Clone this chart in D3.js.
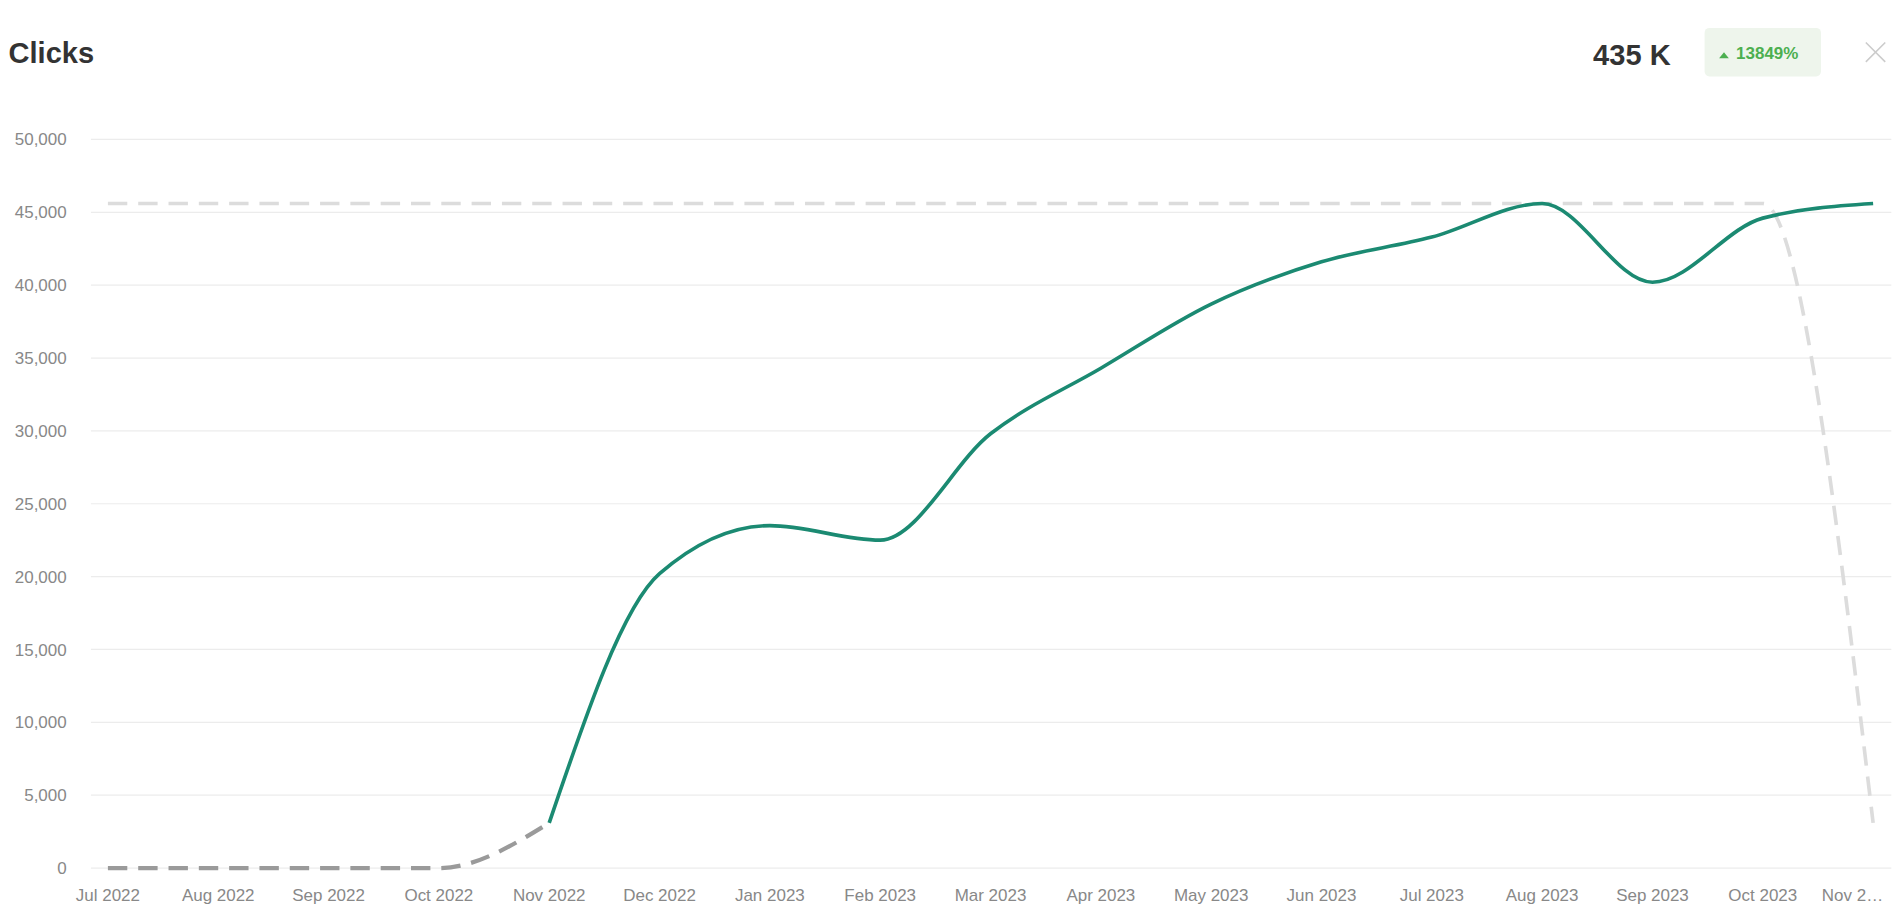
<!DOCTYPE html>
<html><head><meta charset="utf-8">
<script src="https://cdn.jsdelivr.net/npm/d3@7"></script>
<style>body{margin:0;background:#fff}svg{display:block;font-family:"Liberation Sans",Arial,sans-serif}</style>
</head><body><svg id="chart"></svg>
<script>
const months = ['Jul 2022','Aug 2022','Sep 2022','Oct 2022','Nov 2022','Dec 2022','Jan 2023','Feb 2023','Mar 2023','Apr 2023','May 2023','Jun 2023','Jul 2023','Aug 2023','Sep 2023','Oct 2023','Nov 2…'];
const clicks = [null,null,null,null,3100,20200,23500,22500,29800,34300,38700,41600,43300,45600,40200,44600,45600];
const partial = [0,0,0,0,3100,null,null,null,null,null,null,null,null,null,null,null,null];
const previous = [45600,45600,45600,45600,45600,45600,45600,45600,45600,45600,45600,45600,45600,45600,45600,45600,3100];
const yTicks = [0,5000,10000,15000,20000,25000,30000,35000,40000,45000,50000];

const svg = d3.select('#chart').attr('width',1901).attr('height',919).attr('viewBox','0 0 1568 758');

const x = d3.scalePoint().domain(months).range([89,1545]);
const y = d3.scaleLinear().domain([0,50000]).range([716,115]);

// header
svg.append('text').attr('x',7).attr('y',52).attr('font-size',24).attr('font-weight','bold').attr('fill','#333').text('Clicks');
svg.append('text').attr('x',1378).attr('y',54).attr('text-anchor','end').attr('font-size',24).attr('font-weight','bold').attr('fill','#333').text('435 K');
svg.append('rect').attr('x',1406).attr('y',23).attr('width',96).attr('height',40).attr('rx',4).attr('fill','#eef5ec');
svg.append('path').attr('d','M1418,48 l4,-5 l4,5 z').attr('fill','#4caf50');
svg.append('text').attr('x',1432).attr('y',49).attr('font-size',14).attr('font-weight','bold').attr('fill','#4caf50').text('13849%');
svg.append('path').attr('d','M1539,35 l16,16 M1555,35 l-16,16').attr('stroke','#ccc').attr('stroke-width',1.3);

// grid + y labels
svg.append('g').selectAll('line').data(yTicks).join('line')
  .attr('x1',75).attr('x2',1560).attr('y1',d=>y(d)).attr('y2',d=>y(d))
  .attr('stroke','#ececec').attr('stroke-width',1);
svg.append('g').selectAll('text').data(yTicks).join('text')
  .attr('x',55).attr('y',d=>y(d)+5).attr('text-anchor','end')
  .attr('font-size',14).attr('fill','#888').text(d3.format(','));

// x labels
svg.append('g').selectAll('text').data(months).join('text')
  .attr('x',(d,i)=>i===months.length-1?1528:x(d)).attr('y',743).attr('text-anchor','middle')
  .attr('font-size',14).attr('fill','#888').text(d=>d);

const line = d3.line().defined(d=>d!=null).x((d,i)=>x(months[i])).y(d=>y(d)).curve(d3.curveMonotoneX);

svg.append('path').attr('d',line(previous)).attr('fill','none').attr('stroke','#dcdcdc').attr('stroke-width',3).attr('stroke-dasharray','16,9');
svg.append('path').attr('d',line(partial)).attr('fill','none').attr('stroke','#9a9a9a').attr('stroke-width',3.5).attr('stroke-dasharray','16,9');
svg.append('path').attr('d',line(clicks)).attr('fill','none').attr('stroke','#1b8a72').attr('stroke-width',3);
</script></body></html>
